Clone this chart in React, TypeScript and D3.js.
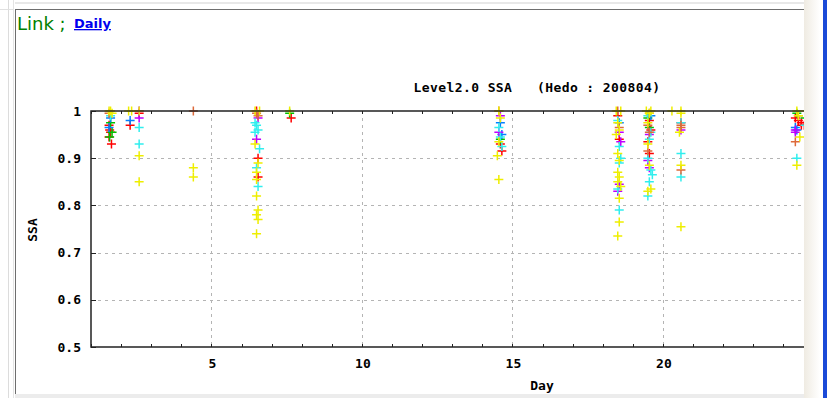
import React from "react";
import * as d3 from "d3";

type P = [number, number];

const redPts: P[] = [[1.6,0.97],[1.62,0.96],[1.65,0.955],[1.6,0.945],[1.68,0.93],[2.3,0.97],[2.6,0.995],[6.5,1.0],[6.55,0.9],[6.55,0.86],[7.65,0.985],[14.6,0.93],[14.65,0.915],[18.5,0.99],[18.55,0.94],[19.55,0.98],[19.6,0.96],[19.5,0.935],[19.55,0.91],[20.6,0.975],[24.4,0.985],[24.5,0.98],[24.6,0.975],[24.6,0.97],[24.7,0.97]];
const greenPts: P[] = [[1.65,0.975],[1.7,0.955],[1.62,0.945],[7.6,0.995],[14.6,0.94],[19.5,0.985],[19.55,0.965],[24.45,0.995],[24.72,0.985]];
const bluePts: P[] = [[1.65,0.985],[1.6,0.965],[2.3,0.98],[14.6,0.975],[14.65,0.95],[18.55,0.975],[19.6,0.99],[24.4,0.965],[24.45,0.96]];
const magentaPts: P[] = [[2.6,1.0],[2.6,0.985],[6.55,0.985],[6.5,0.94],[14.6,0.99],[14.55,0.955],[18.55,0.955],[18.6,0.935],[18.55,0.845],[18.5,0.83],[19.55,0.95],[19.5,0.895],[19.55,0.88],[20.6,0.96],[24.4,0.96],[24.4,0.955]];
const cyanPts: P[] = [[1.65,0.99],[2.6,0.965],[2.6,0.93],[6.45,0.975],[6.5,0.97],[6.55,0.96],[6.45,0.955],[6.6,0.92],[6.5,0.88],[6.55,0.84],[14.55,0.965],[14.6,0.945],[14.65,0.925],[18.5,0.98],[18.55,0.925],[18.6,0.9],[18.55,0.89],[18.5,0.835],[18.55,0.79],[19.5,0.99],[19.6,0.955],[19.55,0.94],[19.5,0.9],[19.6,0.875],[19.65,0.865],[19.55,0.85],[19.5,0.82],[20.6,0.975],[20.6,0.91],[20.6,0.86],[24.45,0.9],[24.72,0.97]];
const siennaPts: P[] = [[1.6,0.995],[4.4,1.0],[6.5,0.995],[6.55,0.99],[14.55,1.0],[18.5,1.0],[18.55,0.965],[19.55,0.995],[19.5,0.97],[19.55,0.955],[19.5,0.915],[20.6,0.97],[20.6,0.965],[20.6,0.875],[24.5,0.99],[24.4,0.935]];
const yellowPts: P[] = [[1.6,1.0],[1.65,1.0],[1.7,0.995],[2.25,1.0],[2.35,1.0],[2.6,1.0],[2.6,0.905],[2.6,0.85],[4.4,0.88],[4.4,0.86],[6.45,1.0],[6.6,1.0],[6.45,0.93],[6.55,0.89],[6.5,0.87],[6.5,0.855],[6.5,0.82],[6.55,0.79],[6.5,0.78],[6.55,0.77],[6.5,0.74],[7.6,1.0],[14.55,1.0],[14.6,0.985],[14.55,0.935],[14.5,0.905],[14.55,0.855],[18.45,1.0],[18.6,1.0],[18.5,0.975],[18.55,0.96],[18.45,0.95],[18.5,0.91],[18.55,0.895],[18.5,0.87],[18.55,0.86],[18.5,0.85],[18.6,0.84],[18.55,0.815],[18.55,0.765],[18.5,0.735],[19.45,1.0],[19.6,1.0],[19.55,0.995],[19.5,0.975],[19.5,0.93],[19.55,0.885],[19.6,0.835],[19.5,0.83],[20.3,1.0],[20.6,1.0],[20.6,0.995],[20.55,0.955],[20.6,0.885],[20.6,0.755],[24.45,1.0],[24.5,0.99],[24.55,0.945],[24.45,0.885],[24.72,1.0]];

const seriesList: { color: string; pts: P[] }[] = [
  { color: "#ff0000", pts: redPts },
  { color: "#00c000", pts: greenPts },
  { color: "#0080ff", pts: bluePts },
  { color: "#c000ff", pts: magentaPts },
  { color: "#30eeee", pts: cyanPts },
  { color: "#dd6a3a", pts: siennaPts },
  { color: "#eeee00", pts: yellowPts },
];

const yTicks = [0.5, 0.6, 0.7, 0.8, 0.9, 1];
const yTickLabels = ["0.5", "0.6", "0.7", "0.8", "0.9", "1"];
const xTicks = [5, 10, 15, 20];
const xMinor = d3.range(1, 32);

const title = "Level2.0 SSA   (Hedo : 200804)";

export default function App() {
  const W = 827, H = 398;
  const clipRight = 804;
  const x = d3.scaleLinear().domain([1, 31]).range([91, 91 + 30 * 30.1]);
  const y = d3.scaleLinear().domain([0.5, 1]).range([347, 111]);
  const left = x(1), top = y(1), bottom = y(0.5);
  const mono = "'DejaVu Sans Mono', monospace";
  const s = 4.5;

  return (
    <div style={{ position: "fixed", left: 0, top: 0 }}>
      <svg width={W} height={H} style={{ display: "block", background: "#fff" }}>
        <defs>
          <clipPath id="plotclip">
            <rect x={0} y={0} width={clipRight} height={H} />
          </clipPath>
          <linearGradient id="beige" x1="0" x2="1" y1="0" y2="0">
            <stop offset="0" stopColor="#efebe2" />
            <stop offset="1" stopColor="#ffffff" />
          </linearGradient>
        </defs>
        {/* outer frame */}
        <line x1={8.5} x2={8.5} y1={0} y2={H} stroke="#dcdcdc" />
        <line x1={13.5} x2={13.5} y1={0} y2={H} stroke="#e4e4e4" />
        <line x1={0} x2={13} y1={9.5} y2={9.5} stroke="#e0e0e0" />
        <rect x={15} y={2} width={clipRight - 15} height={2} fill="#e8e8e8" />
        <line x1={15} x2={clipRight} y1={9.5} y2={9.5} stroke="#6e6e6e" />
        <line x1={15.5} x2={15.5} y1={9} y2={H} stroke="#6e6e6e" />
        <rect x={15} y={394} width={clipRight - 15} height={4} fill="#ececec" />

        <text x={17} y={30} fontFamily="'DejaVu Sans', sans-serif" fontSize={18} fill="#008000">Link ;</text>
        <text x={74} y={28} fontFamily="'DejaVu Sans', sans-serif" fontSize={13} fontWeight="bold" fill="#0000ee" textDecoration="underline">Daily</text>

        <g clipPath="url(#plotclip)">
          {/* grid */}
          {yTicks.filter(v => v > 0.5 && v < 1).map(v => (
            <line key={"gy" + v} x1={left} x2={x(31)} y1={Math.round(y(v)) + 0.5} y2={Math.round(y(v)) + 0.5}
              stroke="#b4b4b4" strokeDasharray="3,4" />
          ))}
          {xTicks.map(v => (
            <line key={"gx" + v} x1={Math.round(x(v)) + 0.5} x2={Math.round(x(v)) + 0.5} y1={top} y2={bottom}
              stroke="#b4b4b4" strokeDasharray="3,4" />
          ))}
          {/* minor ticks */}
          {xMinor.map(v => (
            <g key={"mt" + v}>
              <line x1={Math.round(x(v)) + 0.5} x2={Math.round(x(v)) + 0.5} y1={bottom} y2={bottom - 3} stroke="#222" />
              <line x1={Math.round(x(v)) + 0.5} x2={Math.round(x(v)) + 0.5} y1={top} y2={top + 3} stroke="#222" />
            </g>
          ))}
          {yTicks.map(v => (
            <line key={"yt" + v} x1={left} x2={left + 5} y1={Math.round(y(v)) + 0.5} y2={Math.round(y(v)) + 0.5} stroke="#222" />
          ))}
          {/* points */}
          {seriesList.map((se, i) => (
            <g key={"s" + i} stroke={se.color} strokeWidth={1.5}>
              {se.pts.map((p, j) => {
                const cx = x(p[0]), cy = y(p[1]);
                return (
                  <path key={j} d={`M${cx - s},${cy}H${cx + s}M${cx},${cy - s}V${cy + s}`} fill="none" />
                );
              })}
            </g>
          ))}
          {/* border */}
          <path d={`M${x(31)},${top}H${left}V${bottom}H${x(31)}`} fill="none" stroke="#222" strokeWidth={1.5} />
        </g>

        {/* labels */}
        {yTicks.map((v, i) => (
          <text key={"yl" + v} x={81} y={y(v) + 4.5} textAnchor="end" fontFamily={mono} fontWeight="bold" fontSize={13} fill="#000">
            {yTickLabels[i]}
          </text>
        ))}
        {xTicks.map(v => (
          <text key={"xl" + v} x={x(v) + 1} y={368} textAnchor="middle" fontFamily={mono} fontWeight="bold" fontSize={13} fill="#000">
            {v}
          </text>
        ))}
        <text x={542} y={390} textAnchor="middle" fontFamily={mono} fontWeight="bold" fontSize={13} fill="#000">Day</text>
        <text transform={`translate(37,230) rotate(-90)`} textAnchor="middle" fontFamily={mono} fontWeight="bold" fontSize={13} fill="#000">SSA</text>
        <text x={537} y={92} textAnchor="middle" fontFamily={mono} fontWeight="bold" fontSize={13} letterSpacing={0.4} fill="#000" style={{ whiteSpace: "pre" }}>
          {title}
        </text>

        {/* right window edge */}
        <rect x={clipRight} y={0} width={16} height={H} fill="url(#beige)" />
        <rect x={823} y={0} width={4} height={H} fill="#1a4ad8" />
      </svg>
    </div>
  );
}
